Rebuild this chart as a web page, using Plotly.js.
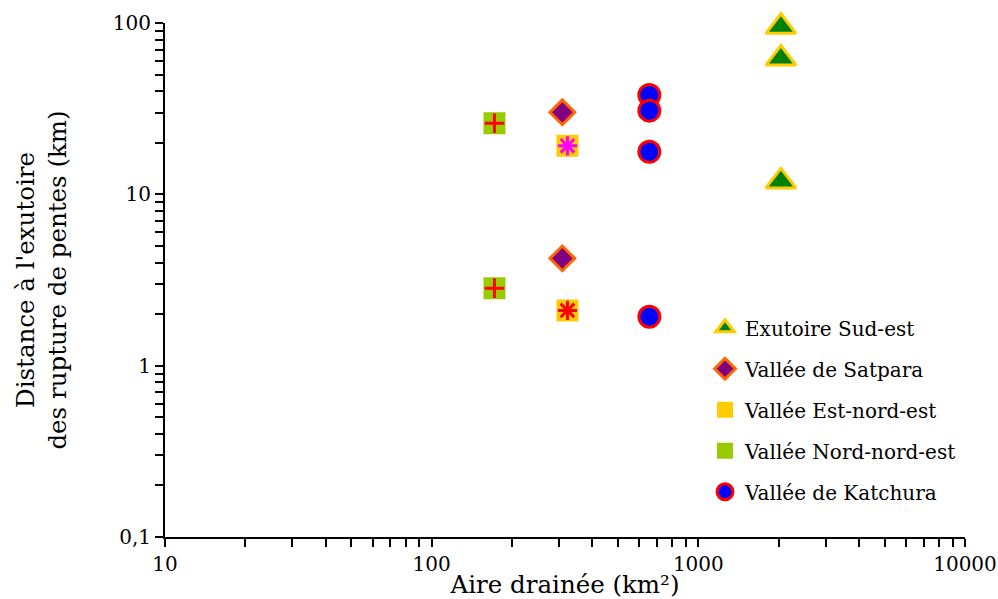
<!DOCTYPE html>
<html>
<head>
<meta charset="utf-8">
<script src="https://cdn.plot.ly/plotly-3.0.1.min.js"></script>
<style>html,body{margin:0;padding:0;background:#fff;}#chart{width:998px;height:599px;}</style>
</head>
<body>
<div id="chart"></div>
<script>
// Data (km² ; km)
const seriesNames = ["Exutoire Sud-est", "Vallée de Satpara", "Vallée Est-nord-est", "Vallée Nord-nord-est", "Vallée de Katchura"];
const sudEstX = [2040, 2040, 2040];
const sudEstY = [95, 62, 11.9];
const satparaX = [309, 309];
const satparaY = [30.1, 4.23];
const estNordEstX = [323, 323];
const estNordEstY = [19.2, 2.10];
const nordNordEstX = [172, 172];
const nordNordEstY = [26.0, 2.83];
const katchuraX = [655, 655, 655, 655];
const katchuraY = [38.0, 30.8, 17.7, 1.93];
const yTickVals = [0.1, 1, 10, 100];
const yTickText = ["0,1", "1", "10", "100"];
const xTickVals = [10, 100, 1000, 10000];
const xTickText = ["10", "100", "1000", "10000"];

function minorVals(lo, hi) {
  const v = [];
  for (let d = lo; d < hi; d *= 10) for (let k = 2; k <= 9; k++) v.push(d * k);
  return v;
}

const FONT = "DejaVu Serif, Liberation Serif, serif";

const traces = [
  {
    x: sudEstX, y: sudEstY, name: seriesNames[0], legendgroup: "g0",
    type: "scatter", mode: "markers", cliponaxis: false,
    marker: {symbol: "triangle-up", size: 26, color: "#008000", line: {color: "#FFCC00", width: 3}}
  },
  {
    x: satparaX, y: satparaY, name: seriesNames[1], legendgroup: "g1",
    type: "scatter", mode: "markers", cliponaxis: false,
    marker: {symbol: "diamond", size: 19, color: "#800080", line: {color: "#FF6600", width: 3}}
  },
  {
    x: estNordEstX, y: estNordEstY, name: seriesNames[2], legendgroup: "g2",
    type: "scatter", mode: "markers", cliponaxis: false,
    marker: {symbol: "square", size: 22, color: "#FFCC00", line: {color: "#FFCC00", width: 0}}
  },
  {
    x: estNordEstX, y: estNordEstY, name: seriesNames[2], legendgroup: "g2", showlegend: false,
    type: "scatter", mode: "markers", cliponaxis: false,
    marker: {symbol: "asterisk-open", size: 16, color: ["#FF00FF", "#FF0000"], line: {color: ["#FF00FF", "#FF0000"], width: 3}}
  },
  {
    x: nordNordEstX, y: nordNordEstY, name: seriesNames[3], legendgroup: "g3",
    type: "scatter", mode: "markers", cliponaxis: false,
    marker: {symbol: "square", size: 22, color: "#99CC00", line: {color: "#99CC00", width: 0}}
  },
  {
    x: nordNordEstX, y: nordNordEstY, name: seriesNames[3], legendgroup: "g3", showlegend: false,
    type: "scatter", mode: "markers", cliponaxis: false,
    marker: {symbol: "cross-thin-open", size: 14, color: "#FF0000", line: {color: "#FF0000", width: 3}}
  },
  {
    x: katchuraX, y: katchuraY, name: seriesNames[4], legendgroup: "g4",
    type: "scatter", mode: "markers", cliponaxis: false,
    marker: {symbol: "circle", size: 21, color: "#0000FF", line: {color: "#FF0000", width: 3}}
  }
];

const layout = {
  width: 998, height: 599,
  margin: {l: 165, r: 33, t: 23, b: 62},
  paper_bgcolor: "#ffffff", plot_bgcolor: "#ffffff",
  font: {family: FONT, color: "#000", size: 20},
  showlegend: true,
  legend: {
    x: 0.675, y: 0.445, xanchor: "left", yanchor: "top",
    font: {family: FONT, size: 20, color: "#000"},
    bgcolor: "rgba(0,0,0,0)", borderwidth: 0,
    traceorder: "grouped", tracegroupgap: 12
  },
  xaxis: {
    type: "log", range: [1, 4],
    showgrid: false, zeroline: false,
    showline: true, linecolor: "#000", linewidth: 2,
    ticks: "outside", ticklen: 8, tickwidth: 2, tickcolor: "#000",
    tickmode: "array", tickvals: xTickVals, ticktext: xTickText,
    tickfont: {family: FONT, size: 20, color: "#000"},
    minor: {tickmode: "array", tickvals: minorVals(10, 10000), ticks: "outside", ticklen: 8, tickwidth: 2, tickcolor: "#000", showgrid: false},
    title: {text: "Aire drainée (km²)", font: {family: FONT, size: 24.5, color: "#000"}, standoff: 0}
  },
  yaxis: {
    type: "log", range: [-1, 2],
    showgrid: false, zeroline: false,
    showline: true, linecolor: "#000", linewidth: 2,
    ticks: "outside", ticklen: 8, tickwidth: 2, tickcolor: "#000",
    tickmode: "array", tickvals: yTickVals, ticktext: yTickText,
    tickfont: {family: FONT, size: 20, color: "#000"},
    minor: {tickmode: "array", tickvals: minorVals(0.1, 100), ticks: "outside", ticklen: 8, tickwidth: 2, tickcolor: "#000", showgrid: false},
    title: {text: "Distance à l'exutoire<br>des rupture de pentes (km)", font: {family: FONT, size: 24.5, color: "#000"}, standoff: 39}
  }
};

Plotly.newPlot("chart", traces, layout, {displayModeBar: false, staticPlot: true});
</script>
</body>
</html>
